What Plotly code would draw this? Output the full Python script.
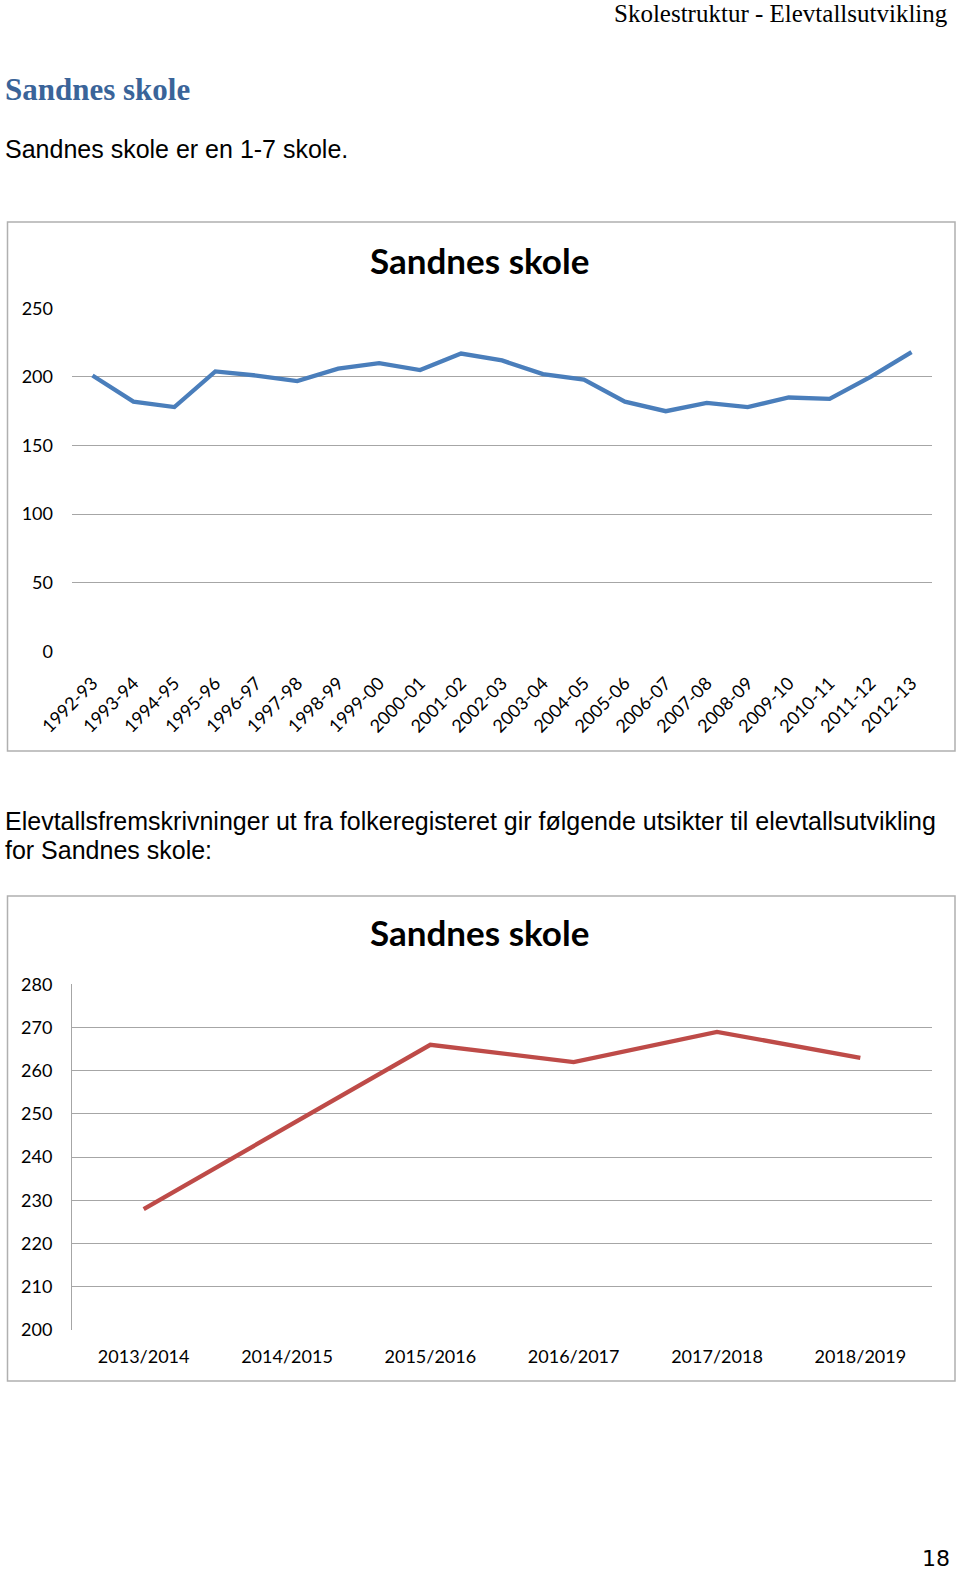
import plotly.graph_objects as go

W, H = 960, 1574

# ---------- data ----------
hist_years = ["1992-93", "1993-94", "1994-95", "1995-96", "1996-97", "1997-98", "1998-99",
              "1999-00", "2000-01", "2001-02", "2002-03", "2003-04", "2004-05", "2005-06",
              "2006-07", "2007-08", "2008-09", "2009-10", "2010-11", "2011-12", "2012-13"]
hist_students = [201, 182, 178, 204, 201, 197, 206, 210, 205, 217, 212, 202, 198, 182,
                 175, 181, 178, 185, 184, 200, 218]

proj_years = ["2013/2014", "2014/2015", "2015/2016", "2016/2017", "2017/2018", "2018/2019"]
proj_students = [228, 247, 266, 262, 269, 263]

hist_yticks = [0, 50, 100, 150, 200, 250]
proj_yticks = [200, 210, 220, 230, 240, 250, 260, 270, 280]

# ---------- helpers ----------
def px(x):
    return x / W

def py(y):
    return 1 - y / H

CHART_FONT = "Lato"
GRID = "#A6A6A6"

fig = go.Figure()

fig.add_trace(go.Scatter(x=hist_years, y=hist_students, mode="lines",
                         line=dict(color="#4A7EBB", width=4.3), xaxis="x", yaxis="y",
                         showlegend=False, hoverinfo="x+y"))
fig.add_trace(go.Scatter(x=proj_years, y=proj_students, mode="lines",
                         line=dict(color="#BE4B48", width=4.3), xaxis="x2", yaxis="y2",
                         showlegend=False, hoverinfo="x+y"))

fig.update_layout(
    width=W, height=H,
    margin=dict(l=0, r=0, t=0, b=0, pad=0, autoexpand=False),
    paper_bgcolor="white", plot_bgcolor="white",
    xaxis=dict(domain=[px(72), px(932)], anchor="y", type="category", automargin=False,
               range=[-0.5, len(hist_years) - 0.5], showgrid=False, zeroline=False,
               showline=False, ticks="", tickangle=-45, ticklabelstandoff=17,
               tickfont=dict(family=CHART_FONT, size=18, color="#000000")),
    yaxis=dict(domain=[py(651.3), py(308.3)], anchor="x", range=[0, 250], automargin=False,
               tickvals=hist_yticks, showgrid=True, gridcolor=GRID, gridwidth=1,
               zeroline=False, showline=False, ticks="", ticklabelstandoff=18,
               tickfont=dict(family=CHART_FONT, size=18, color="#000000")),
    xaxis2=dict(domain=[px(72), px(932)], anchor="y2", type="category", automargin=False,
                range=[-0.5, len(proj_years) - 0.5], showgrid=False, zeroline=False,
                showline=False, ticks="", ticklabelstandoff=14,
                tickfont=dict(family=CHART_FONT, size=18, color="#000000")),
    yaxis2=dict(domain=[py(1330), py(984.3)], anchor="x2", range=[200, 280], automargin=False,
                tickvals=proj_yticks, showgrid=True, gridcolor=GRID, gridwidth=1,
                zeroline=False, showline=True, linecolor=GRID, linewidth=1, ticks="",
                ticklabelstandoff=15,
                tickfont=dict(family=CHART_FONT, size=18, color="#000000")),
)

# chart frames
for (x0, y0, x1, y1) in [(7.5, 222, 955, 751), (7.5, 896, 955, 1381)]:
    fig.add_shape(type="rect", xref="paper", yref="paper",
                  x0=px(x0), x1=px(x1), y0=py(y1), y1=py(y0),
                  line=dict(color="#B0B0B0", width=1.5), fillcolor="rgba(0,0,0,0)",
                  layer="below")

def text(x, y, s, size, family, color="#000000", xanchor="left", bold=False):
    if bold:
        s = "<b>" + s + "</b>"
    fig.add_annotation(x=px(x), y=py(y), xref="paper", yref="paper", text=s,
                       showarrow=False, xanchor=xanchor, yanchor="middle",
                       font=dict(family=family, size=size, color=color))

text(950, 13, "Skolestruktur - Elevtallsutvikling", 25, "Liberation Serif", xanchor="right")
text(3, 90, "Sandnes skole", 31, "Liberation Serif", color="#3A6499", bold=True)
text(3, 149, "Sandnes skole er en 1-7 skole.", 25, "Liberation Sans")
text(3, 821, "Elevtallsfremskrivninger ut fra folkeregisteret gir følgende utsikter til elevtallsutvikling",
     25, "Liberation Sans")
text(3, 850, "for Sandnes skole:", 25, "Liberation Sans")
text(479, 260, "Sandnes skole", 35, CHART_FONT, bold=True, xanchor="center")
text(479, 932, "Sandnes skole", 35, CHART_FONT, bold=True, xanchor="center")
text(952, 1558, "18", 22, "DejaVu Sans", xanchor="right")

fig.write_html("out.html")
